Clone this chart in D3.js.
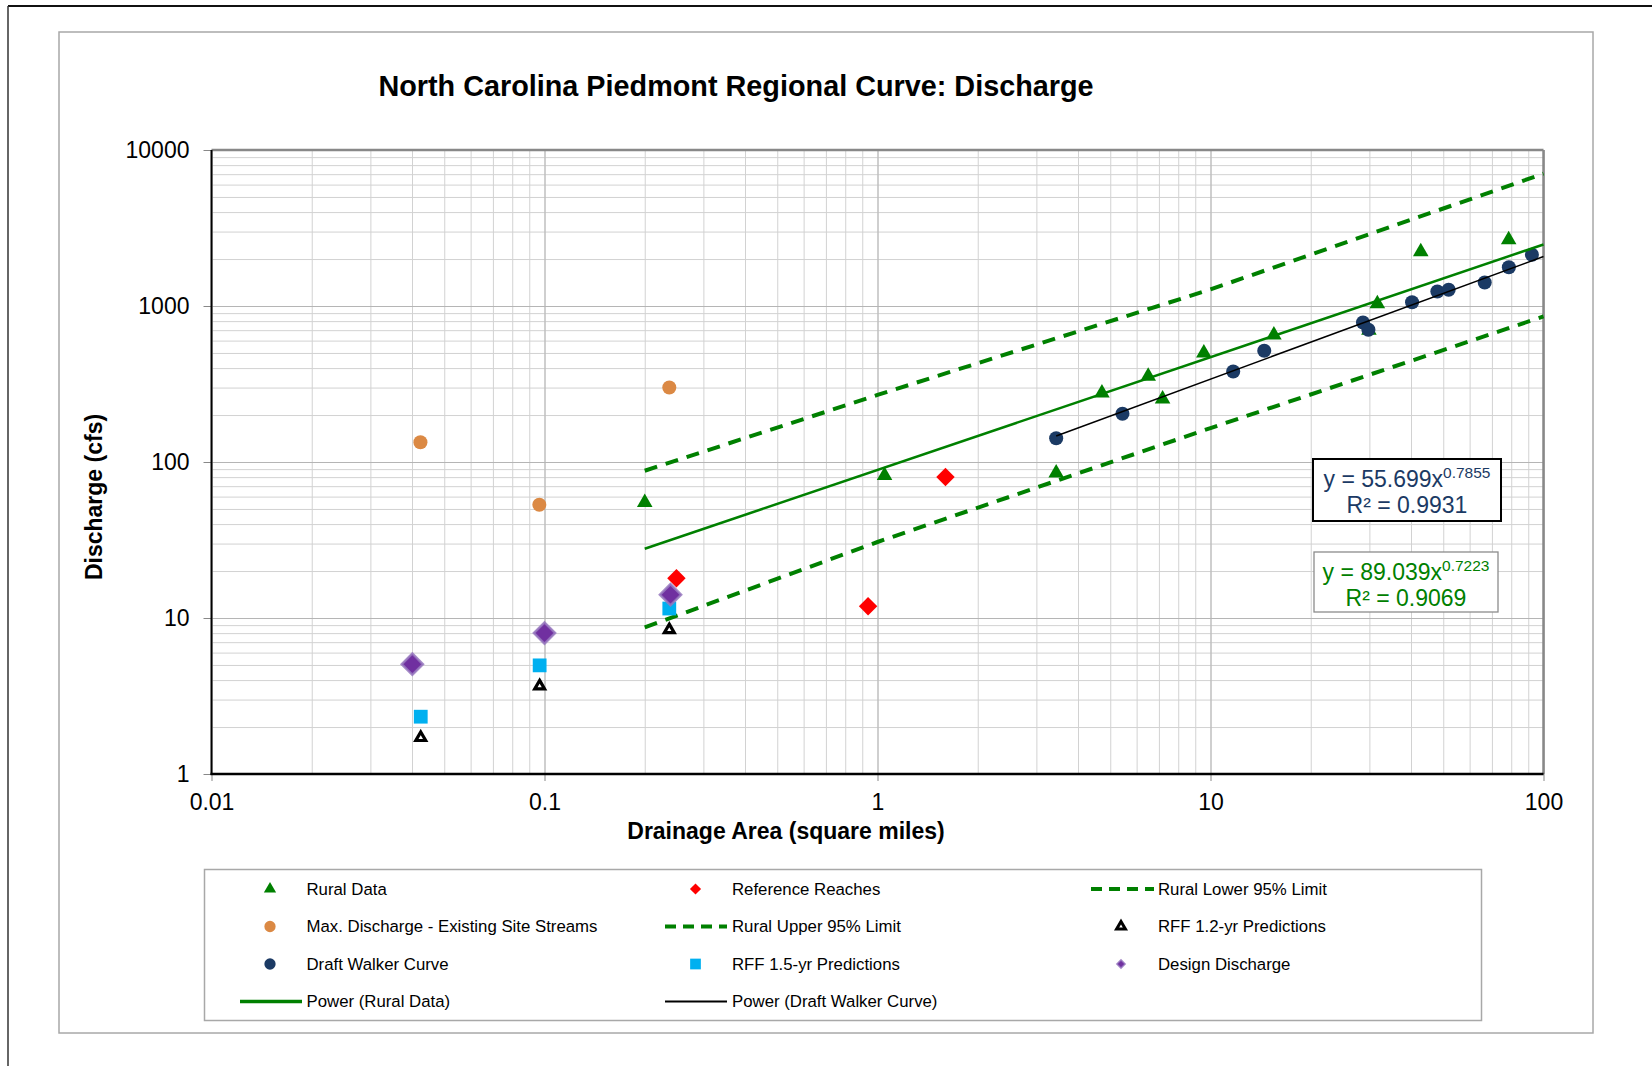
<!DOCTYPE html>
<html><head><meta charset="utf-8">
<script src="https://cdn.jsdelivr.net/npm/d3@7"></script>
<style>
body{margin:0;background:#fff}
svg{display:block}
text{font-family:"Liberation Sans",Arial,Helvetica,sans-serif}
</style>
</head><body>
<svg id="chart" width="1652" height="1066"></svg>
<script>
// ---------------- DATA ----------------
const xTickValues = [0.01, 0.1, 1, 10, 100];
const xTickLabels = ["0.01", "0.1", "1", "10", "100"];
const yTickValues = [1, 10, 100, 1000, 10000];
const yTickLabels = ["1", "10", "100", "1000", "10000"];

const ruralX = [0.2, 1.05, 3.44, 4.72, 6.5, 7.18, 9.55, 15.5, 29.9, 31.7, 42.8, 78.6];
const ruralY = [55, 82, 85, 277, 354, 253, 500, 651, 700, 1033, 2230, 2660];

const walkerX = [3.44, 5.44, 11.7, 14.5, 28.7, 29.8, 40.3, 48.0, 51.9, 66.6, 78.7, 92.3];
const walkerY = [142, 204, 380, 516, 783, 705, 1058, 1240, 1272, 1415, 1770, 2130];

const maxDischargeX = [0.0424, 0.0965, 0.237];
const maxDischargeY = [134, 53.2, 300];

const referenceX = [0.249, 0.937, 1.60];
const referenceY = [18.0, 11.9, 80.2];

const rff15X = [0.0425, 0.0967, 0.237];
const rff15Y = [2.33, 4.97, 11.5];

const rff12X = [0.0425, 0.0967, 0.237];
const rff12Y = [1.71, 3.66, 8.4];

const designX = [0.0401, 0.1, 0.239];
const designY = [5.06, 8.0, 14.1];

const upperX = [0.2, 1, 10, 100];
const upperY = [87.9, 269, 1277, 7050];

const lowerX = [0.2, 1, 10, 100];
const lowerY = [8.7, 30.7, 165, 857];

const ruralTrendX = [0.2, 100];
const ruralTrendY = [27.8, 2480];

const walkerTrendX = [3.44, 100];
const walkerTrendY = [147, 2074];

const legendItems = [
  ["Rural Data", "ruralTri"], ["Reference Reaches", "redDia"], ["Rural Lower 95% Limit", "dash"],
  ["Max. Discharge - Existing Site Streams", "orangeCirc"], ["Rural Upper 95% Limit", "dash"], ["RFF 1.2-yr Predictions", "blackTri"],
  ["Draft Walker Curve", "navyCirc"], ["RFF 1.5-yr Predictions", "cyanSq"], ["Design Discharge", "purpleDia"],
  ["Power (Rural Data)", "greenLine"], ["Power (Draft Walker Curve)", "blackLine"]
];

// ---------------- COLORS ----------------
const GREEN = "#008000", NAVY = "#1B3A64", ORANGE = "#DB8944", RED = "#FF0000",
      CYAN = "#00B0F0", PURPLE = "#7030A0", PURPLE_EDGE = "rgba(150,120,190,0.85)";

// ---------------- LAYOUT ----------------
const svg = d3.select("#chart");
svg.append("rect").attr("width", 1652).attr("height", 1066).attr("fill", "#fff");
// outer frame (partial)
svg.append("line").attr("x1", 8).attr("y1", 6).attr("x2", 1652).attr("y2", 6).attr("stroke", "#111").attr("stroke-width", 2);
svg.append("line").attr("x1", 8).attr("y1", 6).attr("x2", 8).attr("y2", 1066).attr("stroke", "#333").attr("stroke-width", 1.5);
// chart area
svg.append("rect").attr("x", 59).attr("y", 32).attr("width", 1534).attr("height", 1001)
  .attr("fill", "#fff").attr("stroke", "#a8a8a8").attr("stroke-width", 1.5);

const L = 211.5, R = 1543.5, T = 150, B = 774;
const x = d3.scaleLog().domain([0.01, 100]).range([L, R]);
const y = d3.scaleLog().domain([1, 10000]).range([B, T]);

// title
svg.append("text").attr("x", 736).attr("y", 96).attr("text-anchor", "middle")
  .attr("font-size", 28.8).attr("font-weight", "bold").attr("fill", "#000")
  .text("North Carolina Piedmont Regional Curve: Discharge");

// gridlines
const grid = svg.append("g");
grid.append("g").attr("transform", `translate(0,${B})`)
  .call(d3.axisBottom(x).tickValues(x.ticks()).tickSize(-(B - T)).tickFormat(""))
  .call(g => g.select(".domain").remove())
  .call(g => g.selectAll("line").attr("stroke", "#d2d2d2").attr("stroke-width", 1));
grid.append("g").attr("transform", `translate(${L},0)`)
  .call(d3.axisLeft(y).tickValues(y.ticks()).tickSize(-(R - L)).tickFormat(""))
  .call(g => g.select(".domain").remove())
  .call(g => g.selectAll("line").attr("stroke", "#d2d2d2").attr("stroke-width", 1));
grid.append("g").attr("transform", `translate(0,${B})`)
  .call(d3.axisBottom(x).tickValues(xTickValues).tickSize(-(B - T)).tickFormat(""))
  .call(g => g.select(".domain").remove())
  .call(g => g.selectAll("line").attr("stroke", "#b5b5b5").attr("stroke-width", 1));
grid.append("g").attr("transform", `translate(${L},0)`)
  .call(d3.axisLeft(y).tickValues(yTickValues).tickSize(-(R - L)).tickFormat(""))
  .call(g => g.select(".domain").remove())
  .call(g => g.selectAll("line").attr("stroke", "#b5b5b5").attr("stroke-width", 1));

// plot border
svg.append("line").attr("x1", L).attr("y1", T).attr("x2", R).attr("y2", T).attr("stroke", "#888").attr("stroke-width", 2.5);
svg.append("line").attr("x1", R).attr("y1", T).attr("x2", R).attr("y2", B).attr("stroke", "#888").attr("stroke-width", 2.5);

// axes
const xAxis = svg.append("g").attr("transform", `translate(0,${B})`)
  .call(d3.axisBottom(x).tickValues(xTickValues).tickSize(7).tickSizeOuter(0).tickPadding(13)
    .tickFormat((d, i) => xTickLabels[i]));
xAxis.select(".domain").remove();
xAxis.selectAll("line").attr("stroke", "#888");
xAxis.selectAll("text").attr("font-size", 23).attr("fill", "#000").attr("font-family", '"Liberation Sans",Arial,sans-serif');

const yAxis = svg.append("g").attr("transform", `translate(${L},0)`)
  .call(d3.axisLeft(y).tickValues(yTickValues).tickSize(8).tickSizeOuter(0).tickPadding(14)
    .tickFormat((d, i) => yTickLabels[i]));
yAxis.select(".domain").remove();
yAxis.selectAll("line").attr("stroke", "#888");
yAxis.selectAll("text").attr("font-size", 23).attr("fill", "#000").attr("font-family", '"Liberation Sans",Arial,sans-serif');

svg.append("line").attr("x1", L).attr("y1", T).attr("x2", L).attr("y2", B + 1).attr("stroke", "#000").attr("stroke-width", 2);
svg.append("line").attr("x1", L - 1).attr("y1", B).attr("x2", R).attr("y2", B).attr("stroke", "#000").attr("stroke-width", 2.5);

// axis titles
svg.append("text").attr("x", 786).attr("y", 839).attr("text-anchor", "middle")
  .attr("font-size", 23).attr("font-weight", "bold").text("Drainage Area (square miles)");
svg.append("text").attr("transform", "translate(102,497) rotate(-90)").attr("text-anchor", "middle")
  .attr("font-size", 23).attr("font-weight", "bold").text("Discharge (cfs)");

// ---------------- SERIES ----------------
const plot = svg.append("g");
const zip = (a, b) => a.map((v, i) => [v, b[i]]);
const line = d3.line().x(d => x(d[0])).y(d => y(d[1]));

// limits
plot.append("path").datum(zip(lowerX, lowerY)).attr("d", line).attr("fill", "none")
  .attr("stroke", GREEN).attr("stroke-width", 4).attr("stroke-dasharray", "13,9");
plot.append("path").datum(zip(upperX, upperY)).attr("d", line).attr("fill", "none")
  .attr("stroke", GREEN).attr("stroke-width", 4).attr("stroke-dasharray", "13,9");

function drawMarkers(xs, ys, type, size, fill, stroke, sw, rot) {
  plot.append("g").selectAll("path").data(zip(xs, ys)).join("path")
    .attr("d", d3.symbol().type(type).size(size))
    .attr("transform", d => `translate(${x(d[0])},${y(d[1])})` + (rot ? " rotate(45)" : ""))
    .attr("fill", fill).attr("stroke", stroke || "none").attr("stroke-width", sw || 0)
    .attr("stroke-linejoin", "miter");
}

drawMarkers(ruralX, ruralY, d3.symbolTriangle, 105, GREEN);
drawMarkers(referenceX, referenceY, d3.symbolSquare, 170, RED, null, 0, true);
drawMarkers(maxDischargeX, maxDischargeY, d3.symbolCircle, 155, ORANGE);
drawMarkers(rff12X, rff12Y, d3.symbolTriangle, 42, "#fff", "#000", 3.2);
drawMarkers(walkerX, walkerY, d3.symbolCircle, 155, NAVY);
drawMarkers(rff15X, rff15Y, d3.symbolSquare, 190, CYAN);
drawMarkers(designX, designY, d3.symbolSquare, 225, PURPLE, PURPLE_EDGE, 2.5, true);

// trendlines
plot.append("path").datum(zip(ruralTrendX, ruralTrendY)).attr("d", line).attr("fill", "none")
  .attr("stroke", GREEN).attr("stroke-width", 2.5);
plot.append("path").datum(zip(walkerTrendX, walkerTrendY)).attr("d", line).attr("fill", "none")
  .attr("stroke", "#000").attr("stroke-width", 1.6);

// ---------------- EQUATION BOXES ----------------
function eqBox(bx, by, bw, bh, stroke, sw, color, coef, expo, r2) {
  svg.append("rect").attr("x", bx).attr("y", by).attr("width", bw).attr("height", bh)
    .attr("fill", "#fff").attr("stroke", stroke).attr("stroke-width", sw);
  const t = svg.append("text").attr("x", bx + bw / 2).attr("y", by + 27.5).attr("text-anchor", "middle")
    .attr("font-size", 23).attr("fill", color);
  t.append("tspan").text("y = " + coef + "x");
  t.append("tspan").attr("font-size", 15.5).attr("dy", -9).text(expo);
  svg.append("text").attr("x", bx + bw / 2).attr("y", by + 53.5).attr("text-anchor", "middle")
    .attr("font-size", 23).attr("fill", color).text("R² = " + r2);
}
eqBox(1313, 459, 188, 62, "#000", 2, NAVY, "55.699", "0.7855", "0.9931");
eqBox(1314, 552, 184, 60, "#8c8c8c", 1.3, GREEN, "89.039", "0.7223", "0.9069");

// ---------------- LEGEND ----------------
svg.append("rect").attr("x", 204.5).attr("y", 869.5).attr("width", 1277).attr("height", 151)
  .attr("fill", "#fff").attr("stroke", "#a8a8a8").attr("stroke-width", 1.5);
const colMarker = [270, 695.5, 1121];
const colText = [306.5, 732, 1158];
const lineSeg = [[240, 302], [665, 727], [1091, 1154]];
const rowY = [889, 926.5, 964, 1001.5];
const lg = svg.append("g");
legendItems.forEach((it, i) => {
  const c = i % 3, r = Math.floor(i / 3);
  const cy = rowY[r], cx = colMarker[c];
  const [name, kind] = it;
  const sym = (type, size, fill, stroke, sw, rot) => lg.append("path")
    .attr("d", d3.symbol().type(type).size(size))
    .attr("transform", `translate(${cx},${cy})` + (rot ? " rotate(45)" : ""))
    .attr("fill", fill).attr("stroke", stroke || "none").attr("stroke-width", sw || 0);
  const seg = (color, w, dash) => lg.append("line").attr("x1", lineSeg[c][0]).attr("x2", lineSeg[c][1])
    .attr("y1", cy).attr("y2", cy).attr("stroke", color).attr("stroke-width", w).attr("stroke-dasharray", dash || null);
  if (kind === "ruralTri") sym(d3.symbolTriangle, 65, GREEN);
  if (kind === "redDia") sym(d3.symbolSquare, 62, RED, null, 0, true);
  if (kind === "dash") seg(GREEN, 4, "11,7");
  if (kind === "orangeCirc") sym(d3.symbolCircle, 100, ORANGE);
  if (kind === "blackTri") sym(d3.symbolTriangle, 34, "#fff", "#000", 3);
  if (kind === "navyCirc") sym(d3.symbolCircle, 100, NAVY);
  if (kind === "cyanSq") sym(d3.symbolSquare, 115, CYAN);
  if (kind === "purpleDia") sym(d3.symbolSquare, 34, PURPLE, PURPLE_EDGE, 1.5, true);
  if (kind === "greenLine") seg(GREEN, 3.5);
  if (kind === "blackLine") seg("#000", 2.2);
  lg.append("text").attr("x", colText[c]).attr("y", cy).attr("dy", "0.35em")
    .attr("font-size", 16.8).attr("fill", "#000").text(name);
});
</script>
</body></html>
